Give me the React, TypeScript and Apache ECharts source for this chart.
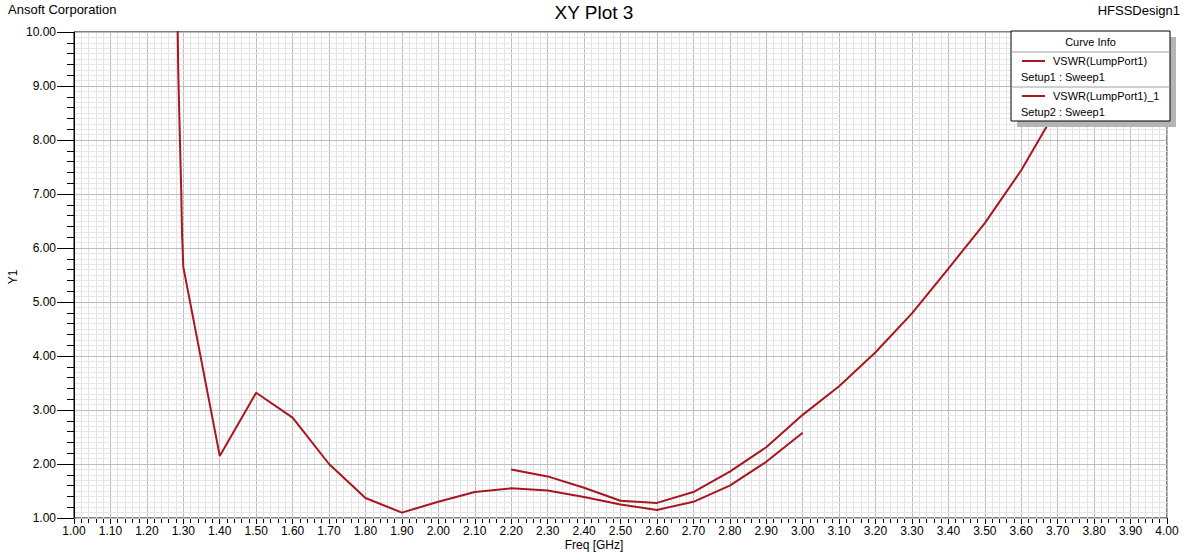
import React, { useEffect, useRef } from "react";
import * as echarts from "echarts";

// Setup1 : Sweep1 — VSWR(LumpPort1)
const freq1 = [1.2835, 1.2862, 1.2889, 1.2917, 1.2945, 1.2965, 1.3, 1.4, 1.5, 1.6, 1.7, 1.8, 1.9, 2.0, 2.1, 2.2, 2.3, 2.4, 2.5, 2.6, 2.7, 2.8, 2.9, 3.0];
const vswr1 = [10.6, 9.23, 8.49, 7.75, 7.01, 6.27, 5.65, 2.15, 3.32, 2.86, 2.0, 1.37, 1.1, 1.3, 1.48, 1.55, 1.51, 1.39, 1.25, 1.15, 1.3, 1.6, 2.04, 2.58];

// Setup2 : Sweep1 — VSWR(LumpPort1)_1
const freq2 = [2.2, 2.3, 2.4, 2.5, 2.6, 2.7, 2.8, 2.9, 3.0, 3.1, 3.2, 3.3, 3.4, 3.5, 3.6, 3.7, 3.8, 3.9, 4.0];
const vswr2 = [1.9, 1.77, 1.56, 1.32, 1.28, 1.48, 1.86, 2.31, 2.91, 3.44, 4.07, 4.79, 5.62, 6.46, 7.44, 8.6, 9.9, 11.3, 12.8];

const seriesNames = ["VSWR(LumpPort1)", "VSWR(LumpPort1)_1"];
const setupNames = ["Setup1 : Sweep1", "Setup2 : Sweep1"];

const FONT = "'Liberation Sans', Arial, sans-serif";
const LINE_COLOR = "#a8161f";

export default function App() {
  const ref = useRef<HTMLDivElement>(null);

  useEffect(() => {
    if (!ref.current) return;
    const chart = echarts.init(ref.current, undefined, { renderer: "svg" });

    const d1 = freq1.map((f, i) => [f, vswr1[i]]);
    const d2 = freq2.map((f, i) => [f, vswr2[i]]);

    const lx = 1011, ly = 31, lw = 159, lh = 90;

    chart.setOption({
      animation: false,
      backgroundColor: "#ffffff",
      textStyle: { fontFamily: FONT },
      grid: {
        left: 74,
        right: 22,
        top: 32,
        bottom: 37,
        show: true,
        borderColor: "#000000",
        borderWidth: 1,
        backgroundColor: "#ffffff",
      },
      xAxis: {
        type: "value",
        min: 1,
        max: 4,
        interval: 0.1,
        axisLine: { show: true, onZero: false, lineStyle: { color: "#000", width: 1 } },
        axisTick: { show: true, length: 6, lineStyle: { color: "#000" } },
        minorTick: { show: true, splitNumber: 5, length: 5, lineStyle: { color: "#000" } },
        splitLine: { show: true, lineStyle: { color: "#bcbcbc", width: 1 } },
        minorSplitLine: { show: true, lineStyle: { color: "#e3e3e3", width: 1 } },
        axisLabel: {
          color: "#000",
          fontSize: 12,
          fontFamily: FONT,
          margin: 7,
          formatter: (v: number) => v.toFixed(2),
        },
      },
      yAxis: [
        {
          type: "value",
          min: 1,
          max: 10,
          interval: 1,
          axisLine: { show: true, onZero: false, lineStyle: { color: "#000", width: 1 } },
          axisTick: { show: true, length: 17, lineStyle: { color: "#000" } },
          minorTick: { show: true, splitNumber: 5, length: 7, lineStyle: { color: "#000" } },
          splitLine: { show: true, lineStyle: { color: "#bcbcbc", width: 1 } },
          axisLabel: {
            color: "#000",
            fontSize: 12,
            fontFamily: FONT,
            margin: 18,
            formatter: (v: number) => v.toFixed(2),
          },
          z: 3,
        },
        {
          type: "value",
          min: 1,
          max: 10,
          interval: 0.1,
          position: "left",
          axisLine: { show: false },
          axisTick: { show: false },
          axisLabel: { show: false },
          splitLine: { show: true, lineStyle: { color: "#e6e6e6", width: 1 } },
          z: 1,
        },
      ],
      series: [
        {
          name: seriesNames[0],
          type: "line",
          data: d1,
          yAxisIndex: 0,
          showSymbol: false,
          symbol: "none",
          clip: true,
          lineStyle: { color: LINE_COLOR, width: 2 },
          z: 5,
        },
        {
          name: seriesNames[1],
          type: "line",
          data: d2,
          yAxisIndex: 0,
          showSymbol: false,
          symbol: "none",
          clip: true,
          lineStyle: { color: LINE_COLOR, width: 2 },
          z: 5,
        },
      ],
      graphic: [
        {
          type: "text",
          left: 8,
          top: 3,
          style: { text: "Ansoft Corporation", font: `13px ${FONT}`, fill: "#000" },
        },
        {
          type: "text",
          x: 594,
          y: 12,
          style: { text: "XY Plot 3", font: `19px ${FONT}`, fill: "#000", align: "center", verticalAlign: "middle" },
        },
        {
          type: "text",
          x: 1180,
          y: 10,
          style: { text: "HFSSDesign1", font: `13px ${FONT}`, fill: "#000", align: "right", verticalAlign: "middle" },
        },
        {
          type: "text",
          x: 13,
          y: 277,
          rotation: Math.PI / 2,
          style: { text: "Y1", font: `12px ${FONT}`, fill: "#000", align: "center", verticalAlign: "middle" },
        },
        {
          type: "text",
          x: 594,
          y: 545,
          style: { text: "Freq [GHz]", font: `12px ${FONT}`, fill: "#000", align: "center", verticalAlign: "middle" },
        },
        // legend box
        {
          type: "group",
          z: 100,
          children: [
            { type: "rect", shape: { x: lx + 6, y: ly + 6, width: lw, height: lh }, style: { fill: "#b4b4b4" }, z: 100 },
            { type: "rect", shape: { x: lx, y: ly, width: lw, height: lh }, style: { fill: "#ffffff", stroke: "#000", lineWidth: 1 }, z: 101 },
            { type: "text", x: lx + lw / 2, y: ly + 11, style: { text: "Curve Info", font: `11px ${FONT}`, fill: "#000", align: "center", verticalAlign: "middle" }, z: 102 },
            { type: "line", shape: { x1: lx, y1: ly + 21, x2: lx + lw, y2: ly + 21 }, style: { stroke: "#a0a0a0", lineWidth: 1 }, z: 102 },
            { type: "line", shape: { x1: lx + 11, y1: ly + 30, x2: lx + 34, y2: ly + 30 }, style: { stroke: LINE_COLOR, lineWidth: 2 }, z: 102 },
            { type: "text", x: lx + 42, y: ly + 30, style: { text: seriesNames[0], font: `11px ${FONT}`, fill: "#000", verticalAlign: "middle" }, z: 102 },
            { type: "text", x: lx + 10, y: ly + 46, style: { text: setupNames[0], font: `11px ${FONT}`, fill: "#000", verticalAlign: "middle" }, z: 102 },
            { type: "line", shape: { x1: lx, y1: ly + 56, x2: lx + lw, y2: ly + 56 }, style: { stroke: "#a0a0a0", lineWidth: 1 }, z: 102 },
            { type: "line", shape: { x1: lx + 11, y1: ly + 65, x2: lx + 34, y2: ly + 65 }, style: { stroke: LINE_COLOR, lineWidth: 2 }, z: 102 },
            { type: "text", x: lx + 42, y: ly + 65, style: { text: seriesNames[1], font: `11px ${FONT}`, fill: "#000", verticalAlign: "middle" }, z: 102 },
            { type: "text", x: lx + 10, y: ly + 81, style: { text: setupNames[1], font: `11px ${FONT}`, fill: "#000", verticalAlign: "middle" }, z: 102 },
          ],
        },
      ],
    });

    return () => chart.dispose();
  }, []);

  return (
    <div
      ref={ref}
      style={{ position: "fixed", left: 0, top: 0, width: 1189, height: 555, background: "#fff" }}
    />
  );
}
